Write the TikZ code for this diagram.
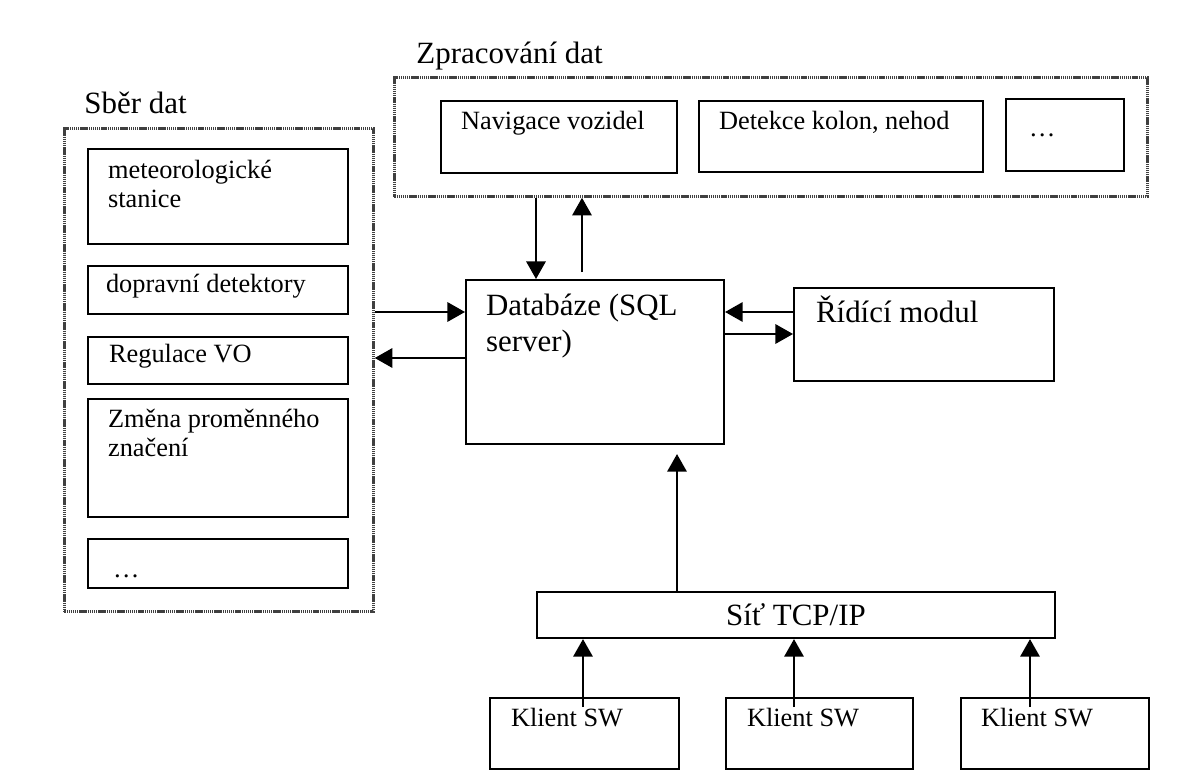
\documentclass[tikz,border=0pt]{standalone}
\usepackage{fontspec}
\setmainfont{Liberation Serif}
\usetikzlibrary{arrows.meta}
\newcommand{\fsmall}{\fontsize{15}{17}\selectfont}
\newcommand{\flarge}{\fontsize{17.6}{21}\selectfont}
\tikzset{
  frame/.style={draw=black!75,line width=1.6pt,dash pattern=on 0.8pt off 0.4pt,anchor=north west,inner sep=0pt},
  box/.style={draw=black,line width=1.2pt,anchor=north west,inner sep=0pt},
  lbl/.style={draw=none,minimum width=0pt,minimum height=0pt,anchor=base west,inner sep=0pt,align=left,font=\fsmall},
  head/.style={lbl,font=\flarge},
}
\begin{document}
\begin{tikzpicture}[x=0.02cm,y=-0.02cm]
  \useasboundingbox (0,0) rectangle (1198,784);
  % outer frames
  \begin{scope}[every node/.style={frame}]
  \node[minimum width=15.06cm,minimum height=2.38cm,label={[head,xshift=0.44cm,yshift=0.26cm]north west:Zpracování dat}] (zprac) at (393,76) {};
  \node[minimum width=6.18cm,minimum height=9.66cm,label={[head,xshift=0.4cm,yshift=0.28cm]north west:Sběr dat}] (sber) at (63,127) {};
  \end{scope}
  % boxes
  \begin{scope}[every node/.style={box}]
  \node[minimum width=4.72cm,minimum height=1.44cm,label={[lbl,xshift=0.4cm,yshift=-0.6cm]north west:Navigace vozidel}] (nav) at (440,100) {};
  \node[minimum width=5.68cm,minimum height=1.42cm,label={[lbl,xshift=0.4cm,yshift=-0.6cm]north west:Detekce kolon, nehod}] (det) at (698,100) {};
  \node[minimum width=2.36cm,minimum height=1.44cm,label={[lbl,xshift=0.46cm,yshift=-0.78cm]north west:…}] (dotsa) at (1005,98) {};
  \node[minimum width=5.2cm,minimum height=1.9cm,label={[lbl,xshift=0.4cm,yshift=-1.2cm]north west:meteorologické\\stanice}] (meteo) at (87,148) {};
  \node[minimum width=5.2cm,minimum height=0.96cm,label={[lbl,xshift=0.36cm,yshift=-0.56cm]north west:dopravní detektory}] (dopr) at (87,265) {};
  \node[minimum width=5.2cm,minimum height=0.94cm,label={[lbl,xshift=0.42cm,yshift=-0.54cm]north west:Regulace VO}] (regul) at (87,336) {};
  \node[minimum width=5.2cm,minimum height=2.36cm,label={[lbl,xshift=0.4cm,yshift=-1.18cm]north west:Změna proměnného\\značení}] (zmena) at (87,398) {};
  \node[minimum width=5.2cm,minimum height=0.98cm,label={[lbl,xshift=0.5cm,yshift=-0.8cm]north west:…}] (dotsb) at (87,538) {};
  \node[minimum width=5.16cm,minimum height=3.28cm,label={[head,xshift=0.4cm,yshift=-1.46cm]north west:Databáze (SQL\\server)}] (db) at (465,279) {};
  \node[minimum width=5.2cm,minimum height=1.86cm,label={[head,xshift=0.44cm,yshift=-0.72cm]north west:Řídící modul}] (ridi) at (793,287) {};
  \node[minimum width=10.36cm,minimum height=0.92cm,font=\flarge] (sit) at (536,591) {Síť TCP/IP};
  \node[minimum width=3.78cm,minimum height=1.42cm,label={[lbl,xshift=0.42cm,yshift=-0.6cm]north west:Klient SW}] (ka) at (489,697) {};
  \node[minimum width=3.74cm,minimum height=1.42cm,label={[lbl,xshift=0.42cm,yshift=-0.6cm]north west:Klient SW}] (kb) at (725,697) {};
  \node[minimum width=3.76cm,minimum height=1.42cm,label={[lbl,xshift=0.4cm,yshift=-0.6cm]north west:Klient SW}] (kc) at (960,697) {};
  \end{scope}
  % lanes for the arrows
  \coordinate (xdn) at (536,0);
  \coordinate (xup) at (582,0);
  \coordinate (xnet) at (677,0);
  \coordinate (xka) at (583,0);
  \coordinate (xkb) at (794,0);
  \coordinate (xkc) at (1030,0);
  \coordinate (yin) at (0,312);
  \coordinate (yout) at (0,358);
  \coordinate (yctl) at (0,334);
  \begin{scope}[every edge/.style={draw=black,line width=1.2pt,-{Triangle[length=10pt,width=11pt]}}]
  \path (zprac.south -| xdn) edge (db.north -| xdn);
  \path (db.north -| xup) edge[shorten <=0.14cm] (zprac.south -| xup);
  \path (sber.east |- yin) edge (db.west |- yin);
  \path (db.west |- yout) edge (sber.east |- yout);
  \path (ridi.west |- yin) edge (db.east |- yin);
  \path (db.east |- yctl) edge (ridi.west |- yctl);
  \path (sit.north -| xnet) edge[shorten >=0.18cm] (db.south -| xnet);
  \path (ka.north -| xka) edge[shorten <=-0.2cm] (sit.south -| xka);
  \path (kb.north -| xkb) edge[shorten <=-0.2cm] (sit.south -| xkb);
  \path (kc.north -| xkc) edge[shorten <=-0.2cm] (sit.south -| xkc);
  \end{scope}
\end{tikzpicture}
\end{document}
